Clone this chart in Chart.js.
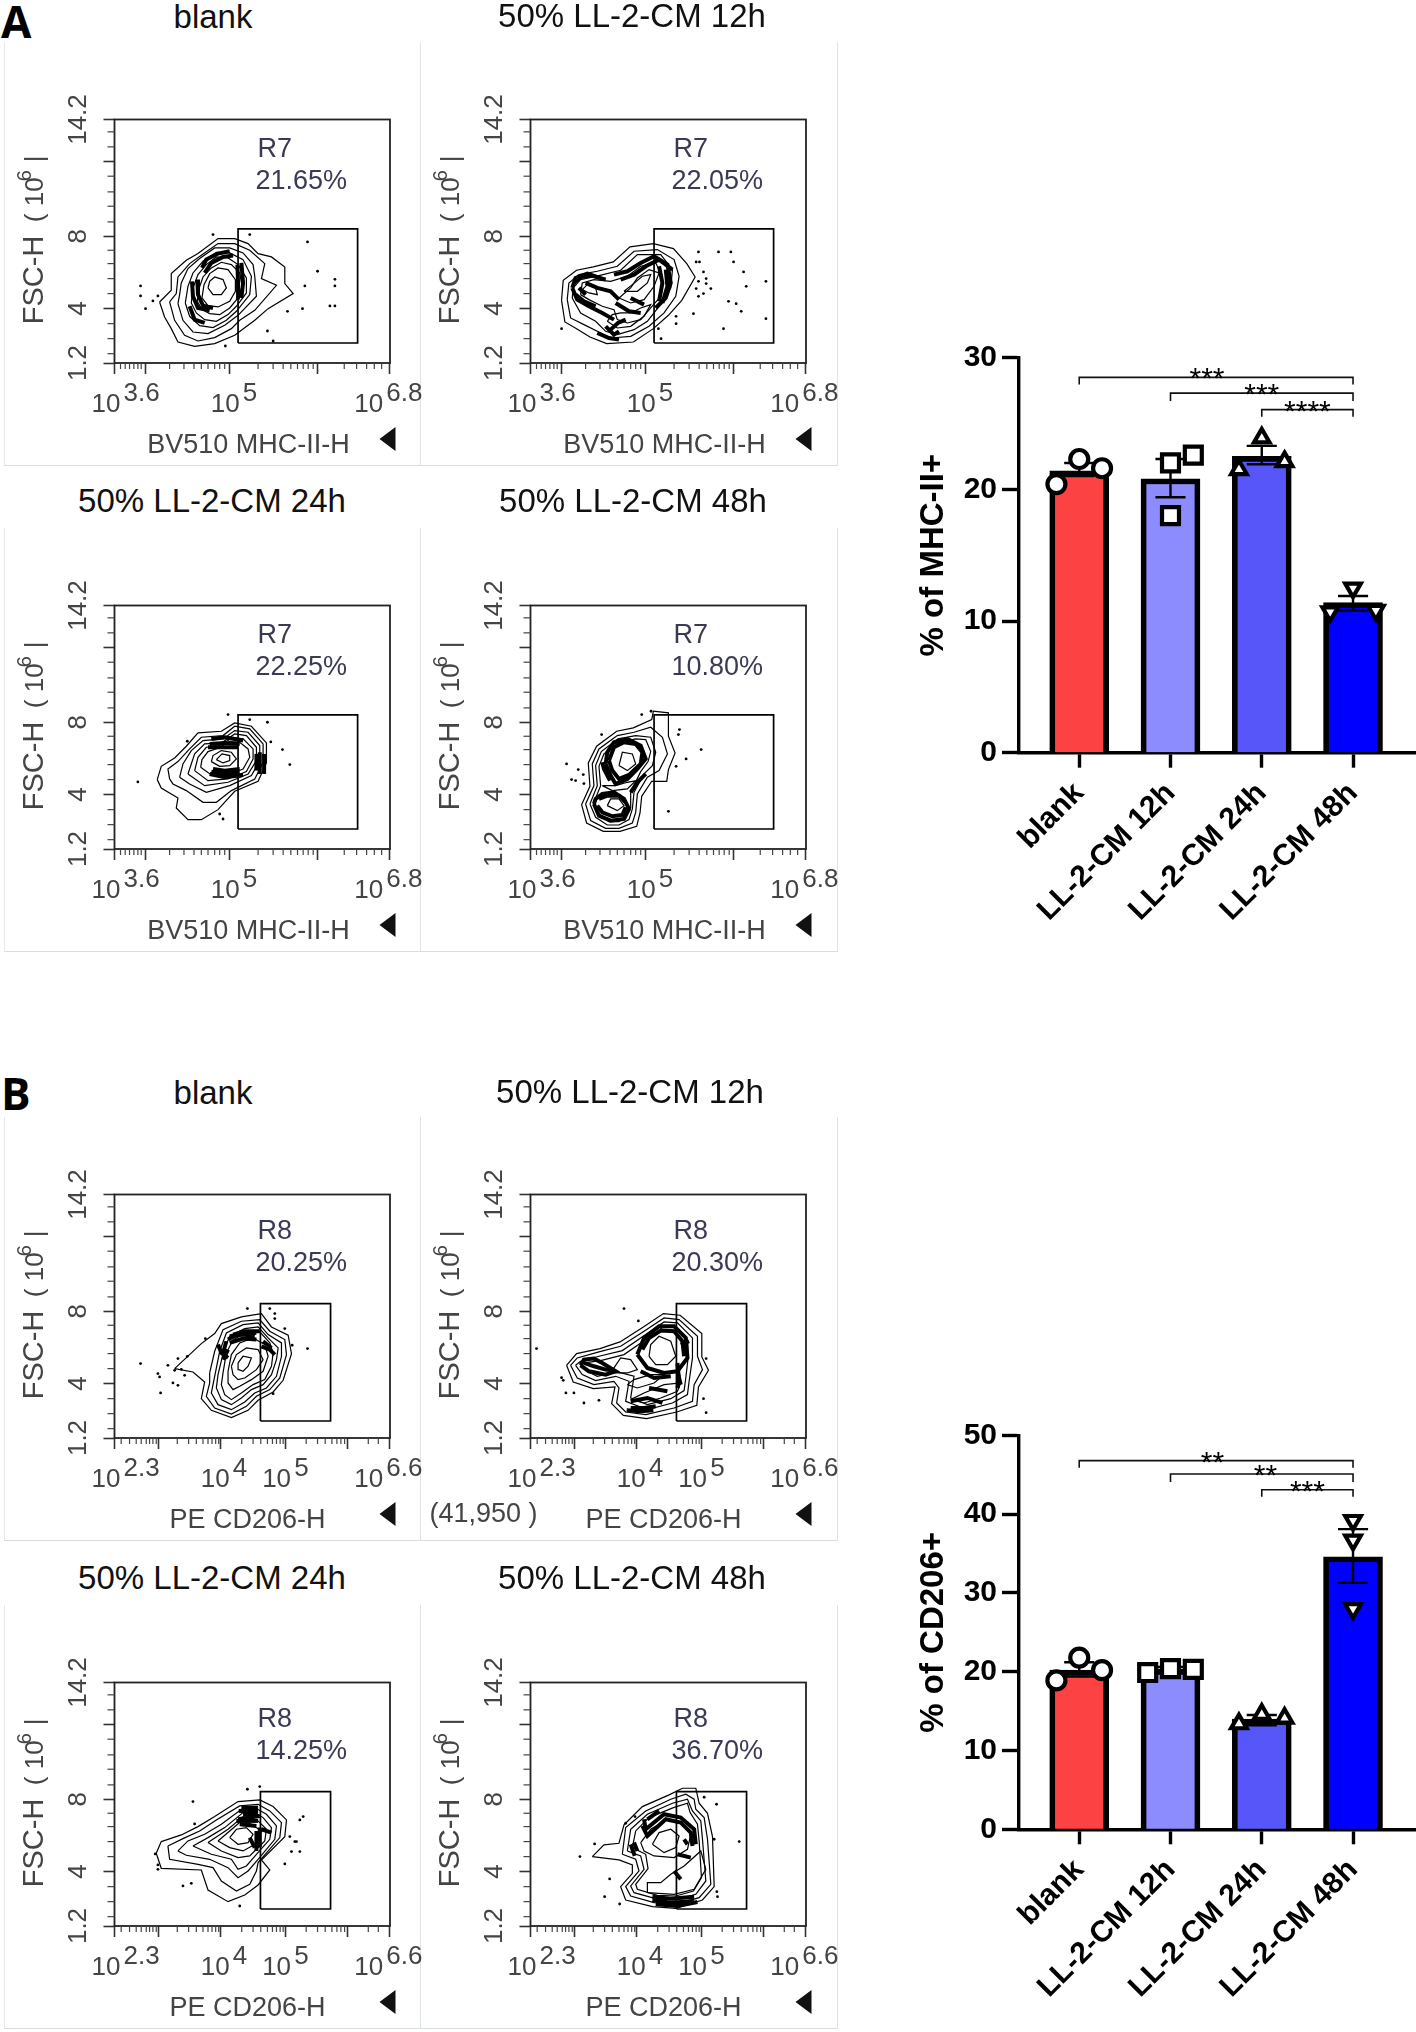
<!DOCTYPE html>
<html>
<head>
<meta charset="utf-8">
<title>MHC-II and CD206 after LL-2-CM</title>
<script src="https://cdn.jsdelivr.net/npm/chart.js@4"></script>
<style>
  html, body { margin: 0; background: #fff; }
  body { position: relative; width: 1416px; height: 2032px; overflow: hidden; font-family: "Liberation Sans", sans-serif; }
  .panel { position: absolute; width: 417px; height: 424px; box-sizing: border-box; border-right: 1px solid #dfe3ec; border-bottom: 1.5px solid #d8dce6; }
  .panel.first { border-left: 1px solid #e6e9f0; }
  .panel canvas, .bars canvas { display: block; }
  .panel canvas { filter: blur(0.35px); }
  .bars { position: absolute; width: 516px; height: 670px; filter: blur(0.3px); }
  .title { position: absolute; font-size: 33px; color: #111; transform: translate(-50%, -50%); white-space: nowrap; }
  .letter { position: absolute; font-family: "Open Sans", sans-serif; font-weight: 700; font-size: 44px; line-height: 44px; color: #000; }
</style>
</head>
<body>
<div class="letter" style="left:1px;top:-1px">A</div>
<div class="letter" style="left:1px;top:1071px">B</div>
<div class="bars" style="left:900px;top:330px"><canvas id="barsA" width="516" height="670"></canvas></div>
<div class="bars" style="left:900px;top:1400px"><canvas id="barsB" width="516" height="632"></canvas></div>

<script>
// bar charts
const groups = ['blank', 'LL-2-CM 12h', 'LL-2-CM 24h', 'LL-2-CM 48h'];
const barColors = ['#FC4242', '#8C8CFF', '#5757F9', '#0000FF'];

const mhcMeans = [21.4, 20.8, 22.5, 11.4];
const mhcErrLow = [21.0, 19.4, 21.9, 10.8];
const mhcErrHigh = [22.0, 22.3, 23.3, 11.9];
const mhcPoints = [[20.4, 22.3, 21.6], [18.0, 22.0, 22.6], [21.5, 23.9, 22.1], [10.7, 12.5, 10.8]];
const mhcBrackets = [[0, 3, 28.5, 27.95], [1, 3, 27.3, 26.7], [2, 3, 26.05, 25.5]];
const mhcStars = ['***', '***', '****'];
const mhcStarX = [1.4, 2.0, 2.5];

const cdMeans = [20.2, 20.3, 14.0, 34.6];
const cdErrLow = [19.4, 20.15, 13.2, 31.3];
const cdErrHigh = [21.2, 20.6, 14.5, 38.1];
const cdPoints = [[18.9, 21.8, 20.2], [19.9, 20.4, 20.3], [13.4, 14.6, 14.1], [28.0, 39.2, 36.7]];
const cdBrackets = [[0, 3, 46.8, 45.9], [1, 3, 45.1, 44.1], [2, 3, 43.1, 42.2]];
const cdStars = ['**', '**', '***'];
const cdStarX = [1.46, 2.04, 2.5];

// flow plots, all contours in display channels (x 0-825, y 0-730)
const xTicksA = [0, 93, 345, 608, 823];
const xMinorA = [18, 32, 45, 58, 70, 80, 165, 208, 238, 260, 280, 300, 315, 330, 430, 475, 505, 528, 548, 565, 580, 595, 688, 725, 755, 778, 800];
const xExpA = [[0, '3.6', -23], [345, '5', -19], [823, '6.8', -35]];
const xTicksB = [0, 132, 318, 511, 697, 823];
const xMinorB = [20, 45, 65, 80, 95, 105, 115, 125, 188, 222, 245, 265, 280, 292, 303, 312, 381, 415, 438, 458, 473, 485, 496, 505, 574, 608, 631, 651, 666, 678, 689, 760, 790];
const xExpB = [[0, '2.3', -23], [318, '4', -20], [511, '5', -23], [823, '6.6', -35]];
const yTicks = [0, 163, 380, 603, 730];
const yMinor = [693, 648, 560, 513, 470, 423, 338, 298, 253, 208, 118, 73, 28];
const yLabels = [[0, '1.2'], [163, '4'], [380, '8'], [730, '14.2']];
const gateA = [370, 60, 728, 60, 728, 402, 370, 402, 370, 60];
const gateB = [437, 51, 647, 51, 647, 403, 437, 403, 437, 51];

const a1Rings = [
  [135,183,150,138,170,103,190,63,240,50,300,58,360,83,420,128,460,163,535,208,510,238,510,288,470,318,430,328,400,358,360,373,310,373,250,328,215,308,170,268,170,218],
  [165,183,180,128,210,83,250,66,300,76,350,103,375,128,420,158,485,233,440,253,450,298,405,338,360,358,310,358,260,323,225,298,190,258,185,208],
  [190,178,205,128,235,93,280,88,330,113,370,143,425,200,420,260,415,295,385,330,345,345,300,345,255,313,220,283,200,240,195,205],
  [212,180,225,140,255,112,295,106,335,128,365,155,405,205,410,260,385,310,345,330,305,332,265,305,235,270,220,230],
  [230,180,245,150,270,130,305,125,340,145,365,170,395,210,395,255,370,295,340,315,305,318,275,295,250,265,235,225],
  [248,185,262,160,285,148,315,145,345,165,370,195,382,230,375,270,350,295,320,302,290,285,265,258,252,220],
  [262,195,280,172,310,168,345,185,362,215,362,250,340,280,310,285,285,268,268,235],
  [280,225,295,205,320,205,335,225,325,250,300,258,285,245]
];
const a1Dense = [[232,245,235,200,250,165,285,158], [262,285,275,310,310,328,345,335], [368,295,370,240,370,190], [248,250,250,205,265,172,295,165], [270,270,290,300,325,318,355,322], [380,300,385,240,380,195], [225,170,240,130,270,120]];
const a1Dots = [295,385,405,385,578,363,608,275,660,251,660,231,570,231,78,231,78,201,130,201,115,186,93,163,518,155,563,163,645,171,660,171,458,96,475,66,332,51];

const a2Rings = [
  [93,188,103,123,138,103,178,78,228,58,308,63,368,103,413,143,453,188,493,258,468,298,428,343,368,358,298,348,248,303,188,288,138,278,98,248],
  [110,190,120,135,160,115,200,95,240,75,300,80,355,110,400,150,435,200,445,260,430,310,380,340,310,335,260,290,200,275,145,265,115,240],
  [125,195,150,150,195,125,225,95,260,85,310,100,350,125,385,170,420,225,425,280,390,325,320,325,270,278,205,262,150,250,128,225],
  [150,205,175,190,215,170,250,160,260,130,290,120,330,130,360,165,390,200,395,260,375,300,330,290,290,260,240,245,190,250,155,240],
  [230,125,260,105,300,110,340,140,360,175,330,165,300,150,270,150,245,145],
  [265,195,300,180,340,190,370,230,385,270,355,280,320,255,300,225],
  [155,220,175,210,200,205,195,225,170,235],
  [280,215,320,215,350,240,360,265,335,260,305,235]
];
const a2Dense = [[125,225,135,255,170,268,205,255], [125,225,140,190,175,170,215,150,250,130], [250,265,290,275,330,300,370,320,410,295,420,240,405,195,375,165], [225,110,250,85,265,95], [130,240,150,258,185,262,225,250], [135,205,160,185,195,170], [145,225,165,205], [165,240,200,225,240,215,265,190], [270,250,310,265,345,290,385,310,425,280], [395,180,410,230,405,280], [385,185,395,240,385,290], [200,90,235,75,265,70], [240,100,262,120,285,130], [255,180,295,155,330,150], [300,195,340,175]];
const a2Dots = [503,333,563,333,600,333,496,303,506,303,608,303,638,273,518,273,503,245,526,253,526,238,496,223,540,223,518,208,503,200,646,230,705,245,593,185,616,178,631,155,488,148,436,140,436,118,383,103,391,73,578,103,705,133,93,103];

const a3Rings = [
  [128,208,140,183,190,153,185,123,220,88,260,88,310,118,360,173,430,203,455,258,455,318,410,368,360,378,320,353,250,348,215,308,180,273,140,248],
  [165,210,175,195,215,175,265,140,305,140,350,175,420,210,445,260,445,315,405,360,360,368,325,340,260,335,225,300,190,262,160,240],
  [195,215,225,195,275,170,345,190,410,220,435,265,435,310,400,350,360,355,325,330,265,325,230,295,205,255],
  [220,225,270,190,340,200,400,225,425,265,425,305,395,340,360,345,320,318,270,315,240,285],
  [240,235,280,205,340,210,395,232,415,270,415,300,385,330,355,335,315,310,275,305,250,275],
  [258,245,290,222,340,222,385,240,405,275,400,300,375,320,345,322,310,302,280,292,262,268],
  [290,262,315,248,345,250,365,270,350,290,320,295,295,280],
  [305,268,325,258,345,265,345,280,322,285]
];
const a3Dense = [[290,232,330,225,375,230], [285,315,330,318,375,315], [448,225,448,285], [290,330,330,335,385,325], [280,305,325,305,370,305], [285,225,330,215,385,222], [295,240,330,235,375,240], [435,225,435,290], [425,235,425,285]];
const a3Dots = [340,403,405,388,458,380,468,321,503,298,525,253,70,201,315,105,325,90,218,323];

const a4Rings = [
  [153,133,168,78,218,53,268,53,318,68,328,108,333,158,363,203,408,203,413,238,433,288,413,338,413,408,368,413,363,388,308,363,258,353,198,308,173,258,178,188],
  [165,135,180,85,225,62,265,62,305,78,315,110,320,165,350,215,385,235,410,285,395,335,360,365,310,350,260,340,205,300,185,255,190,190],
  [178,135,195,95,230,72,265,72,295,88,305,120,310,170,340,225,365,250,375,290,360,335,315,340,262,330,212,292,195,250,200,190],
  [188,135,205,105,235,82,265,82,285,98,298,125,300,170,330,232,352,262,360,292,345,328,315,330,265,320,220,285,205,248,210,190],
  [230,130,260,115,280,130,265,150,240,150],
  [265,250,290,235,315,255,305,285,275,290],
  [215,190,245,175,290,180,315,205,290,200,255,190]
];
const a4Dense = [[190,135,205,100,240,85,280,90,295,120,280,150,250,170,215,165,195,150,190,135], [225,255,240,220,255,195,290,210,320,240,345,270,330,310,290,330,250,320,230,290,225,255], [200,130,215,110,245,98,275,102,285,125], [205,150,230,160,265,160,285,140], [235,265,245,235,265,210,295,222,330,255,335,290,315,315,280,320,250,305,235,265], [215,260,220,240,238,205], [300,170,320,200,345,225]];
const a4Dots = [333,403,213,343,108,255,143,238,123,208,135,205,158,223,160,196,446,358,443,343,466,270,436,248,511,298,413,113,361,413];

const b1Rings = [
  [180,208,260,283,300,313,320,343,380,363,440,373,470,333,520,308,530,253,505,173,475,138,430,113,400,83,350,61,290,83,260,118,270,168,235,198],
  [285,195,300,260,325,325,380,350,435,355,465,320,510,295,515,250,495,180,465,145,425,125,395,95,350,72,300,90,275,125,285,165],
  [300,185,315,260,335,315,385,340,430,345,460,310,500,285,500,245,485,185,455,150,420,135,390,108,350,85,310,100,290,135],
  [310,190,328,265,345,305,390,328,430,333,460,300,490,270,485,235,470,190,445,160,410,145,380,120,350,100,320,115,305,150],
  [325,195,335,255,355,295,395,315,435,318,465,285,475,255,470,215,450,175,415,160,380,135,350,115,330,130,320,160],
  [340,200,350,250,375,285,415,300,450,280,460,245,445,200,410,175,375,155,355,145,340,165],
  [350,215,365,250,395,270,430,265,445,235,425,205,390,180,370,175,355,190],
  [370,225,385,245,410,240,400,215,385,200,372,205]
];
const b1Dense = [[325,255,335,290], [345,305,385,310,420,305], [445,290,470,270], [310,280,320,255,340,240], [340,295,380,318,425,315], [345,285,385,298,425,295], [355,310,390,320,435,320], [440,275,465,265,480,250], [325,235,340,265]];
const b1Dots = [78,223,130,193,135,183,138,135,160,218,175,165,190,158,190,238,218,245,180,203,200,206,210,188,272,298,398,388,465,388,480,373,480,358,510,328,532,278,578,268,475,133];

const b2Rings = [
  [108,218,128,168,188,148,253,153,243,103,278,68,348,58,438,78,498,98,503,153,533,203,513,243,513,313,448,368,398,373,338,333,268,288,208,268,138,253],
  [120,218,140,180,190,160,250,170,265,150,258,105,285,78,345,70,430,90,485,110,490,160,515,205,500,245,500,305,445,355,400,360,340,320,270,275,205,258,140,240],
  [135,218,155,190,195,172,255,185,295,170,285,110,350,85,425,105,470,130,475,170,485,240,485,300,440,345,400,348,345,310,275,262,205,245,150,230],
  [150,218,170,200,200,185,260,198,310,185,300,120,350,100,420,118,460,142,465,180,472,240,470,295,435,335,400,335,350,298,280,250,210,232,160,225],
  [290,160,320,150,370,165,400,190,360,190,310,175],
  [300,115,340,105,390,120,440,140,450,165,400,160,340,135],
  [355,245,375,220,410,220,435,245,420,290,385,305,360,280],
  [215,205,250,210,270,240,300,235,320,205,290,195,255,195]
];
const b2Dense = [[150,218,175,200,225,190,255,200,215,225,190,238,160,235,150,218], [320,250,340,300,385,335,430,335,465,300,470,240,440,200,450,160], [320,250,350,210,400,195,440,200], [288,83,330,80,368,83], [160,225,190,215,225,205,245,205], [335,265,355,300,390,322,430,320,455,290,460,245], [440,225,445,170,440,150], [450,280,475,290], [330,200,370,180,420,185], [300,90,340,90,375,95], [300,110,350,120,395,105], [355,150,410,140]];
const b2Dots = [280,388,18,268,323,351,98,173,106,135,130,135,160,105,205,113,526,238,518,118,526,76,93,181];

const b3Rings = [
  [140,253,125,218,140,173,260,168,280,108,340,73,390,93,430,123,465,168,440,198,510,268,515,318,475,358,435,378,370,373,300,328,250,298,200,273],
  [160,240,165,200,250,185,295,175,320,135,365,105,405,125,425,165,430,190,495,265,500,310,465,345,430,365,375,360,305,318,255,285,205,262],
  [190,225,215,212,285,200,340,175,370,145,400,165,430,200,480,260,485,300,455,335,425,352,380,350,320,305,270,275,220,255],
  [235,240,290,215,350,200,370,170,395,180,425,215,465,260,470,295,445,325,420,340,385,340,330,295,280,265],
  [280,250,320,225,370,205,405,210,450,255,455,290,430,315,385,328,340,290],
  [310,255,345,235,385,225,430,250,440,285,410,305,380,315,345,285],
  [345,265,370,245,400,250,415,275,395,295,365,290]
];
const b3Dense = [[372,345,430,345], [370,320,435,330], [365,315,430,315], [435,295,435,235], [440,290,470,280], [380,355,430,355], [375,305,425,300], [425,285,425,225], [405,265,420,235], [385,335,430,335]];
const b3Dots = [235,373,398,410,435,418,565,328,555,318,525,268,540,253,530,223,555,223,510,186,545,253,205,120,230,128,122,216,130,183,130,170,375,60,240,306];

const b4Rings = [
  [185,208,220,243,265,248,280,303,335,358,415,393,455,413,495,413,505,368,530,338,545,268,550,118,515,78,435,53,365,58,285,78,270,118,305,158,305,183,265,198],
  [275,215,285,295,345,345,420,380,465,395,490,380,495,350,520,325,530,260,540,125,505,85,435,65,370,70,300,90,285,118,325,165,315,200],
  [290,225,300,290,350,335,425,368,470,380,485,345,510,315,515,260,525,135,495,95,435,78,375,82,310,100,300,120,340,170,330,210],
  [305,235,315,285,355,325,428,355,470,368,478,340,500,305,505,255,512,145,488,105,435,90,380,92,320,110,315,125,352,172,345,215],
  [330,250,360,290,410,320,455,310,480,275,470,230,430,205,370,210,340,225],
  [365,245,385,280,420,290,445,270,435,235,400,220],
  [350,100,430,95,490,110,525,170,510,225,460,180,420,155,390,130,350,130]
];
const b4Dense = [[340,320,345,290,400,335,450,325,490,290,495,245], [310,250,320,225], [365,78,420,70,490,75], [335,300,350,270,405,320,450,310,480,280,485,240], [300,245,312,210], [350,320,385,345], [365,88,420,82,490,88], [375,65,440,60,500,72], [440,215,480,205], [430,165,450,140], [460,260,470,245]];
const b4Dots = [148,208,192,246,237,141,222,88,267,66,285,308,313,328,520,386,557,365,625,253,558,103,560,88,550,260];

const font = '"Liberation Sans", sans-serif';

// flat x,y list to chart points
function toXY(list) {
  const out = [];
  for (let i = 0; i < list.length; i += 2) out.push({ x: list[i], y: list[i + 1] });
  return out;
}

// text, minor ticks and frame of one flow plot, none of this is part of the data
const flowExtras = {
  id: 'flowExtras',
  afterDraw(chart, args, o) {
    const ctx = chart.ctx;
    const a = chart.chartArea;
    const sx = chart.scales.x;
    const sy = chart.scales.y;
    ctx.save();
    ctx.strokeStyle = '#222';
    ctx.lineWidth = 1.8;
    ctx.strokeRect(a.left, a.top, a.right - a.left, a.bottom - a.top);

    ctx.lineWidth = 1.2;
    ctx.strokeStyle = '#444';
    o.xMinor.forEach(v => {
      const p = sx.getPixelForValue(v);
      ctx.beginPath(); ctx.moveTo(p, a.bottom); ctx.lineTo(p, a.bottom + 6); ctx.stroke();
    });
    yMinor.forEach(v => {
      const p = sy.getPixelForValue(v);
      ctx.beginPath(); ctx.moveTo(a.left, p); ctx.lineTo(a.left - 7, p); ctx.stroke();
    });

    ctx.fillStyle = '#444';
    ctx.textBaseline = 'alphabetic';
    ctx.textAlign = 'left';
    ctx.font = '26px ' + font;
    o.xExp.forEach(e => {
      const p = sx.getPixelForValue(e[0]) + e[2];
      ctx.fillText('10', p, a.bottom + 49);
      ctx.fillText(e[1], p + 32, a.bottom + 38);
    });

    ctx.font = '27px ' + font;
    ctx.textAlign = 'center';
    ctx.fillText(o.xTitle, a.left + o.xTitleAt, a.bottom + 90);
    if (o.note) {
      ctx.textAlign = 'left';
      ctx.fillText(o.note, a.left + 3 - 104, a.bottom + 84);
    }

    ctx.fillStyle = '#111';
    ctx.beginPath();
    ctx.moveTo(a.left + 265, a.bottom + 76);
    ctx.lineTo(a.left + 281, a.bottom + 64);
    ctx.lineTo(a.left + 281, a.bottom + 88);
    ctx.closePath();
    ctx.fill();

    // y labels read upwards
    ctx.fillStyle = '#444';
    yLabels.forEach(l => {
      ctx.save();
      ctx.translate(a.left - 29, sy.getPixelForValue(l[0]));
      ctx.rotate(-Math.PI / 2);
      ctx.textAlign = 'center';
      ctx.font = '26px ' + font;
      ctx.fillText(l[1], 0, 0);
      ctx.restore();
    });
    ctx.save();
    ctx.translate(a.left - 72, (a.top + a.bottom) / 2);
    ctx.rotate(-Math.PI / 2);
    ctx.textAlign = 'left';
    ctx.font = '29px ' + font;
    ctx.fillText('FSC-H', -83, 0);
    ctx.font = '26px ' + font;
    ctx.fillText('(', 19, 0);
    ctx.fillText('10', 35, 0);
    ctx.font = '20px ' + font;
    ctx.fillText('6', 60, -12);
    ctx.font = '26px ' + font;
    ctx.fillText('|', 79, 0);
    ctx.restore();

    // gate name and percentage
    ctx.fillStyle = '#3b3a55';
    ctx.textAlign = 'left';
    ctx.font = '27px ' + font;
    ctx.fillText(o.gate, a.left + 143, a.top + o.gateY[0]);
    ctx.fillText(o.percent, a.left + 141, a.top + o.gateY[1]);
    ctx.restore();
  }
};

function flowPlot(p) {
  const wrap = document.createElement('div');
  wrap.className = 'panel' + (p.first ? ' first' : '');
  wrap.style.left = p.left + 'px';
  wrap.style.top = p.top + 'px';
  const cv = document.createElement('canvas');
  cv.width = 417;
  cv.height = 424;
  wrap.appendChild(cv);
  document.body.appendChild(wrap);

  const t = document.createElement('div');
  t.className = 'title';
  t.textContent = p.title;
  t.style.left = p.titleX + 'px';
  t.style.top = p.titleY + 'px';
  document.body.appendChild(t);

  const line = (pts, w) => ({ data: pts, showLine: true, borderColor: '#000', borderWidth: w, pointRadius: 0, tension: 0, clip: false });
  const datasets = [];
  p.rings.forEach(r => datasets.push(line(toXY(r.concat(r[0], r[1])), 1.2)));
  p.dense.forEach(r => datasets.push(line(toXY(r), 4)));
  datasets.push(line(toXY(p.gateBox), 1.7));
  datasets.push({ data: toXY(p.dots), showLine: false, pointRadius: 1.4, pointBackgroundColor: '#000', pointBorderWidth: 0 });

  new Chart(cv, {
    type: 'scatter',
    data: { datasets },
    plugins: [flowExtras],
    options: {
      responsive: false,
      animation: false,
      events: [],
      layout: { autoPadding: false, padding: { top: 77.5, right: 32 } },
      plugins: {
        legend: { display: false },
        tooltip: { enabled: false },
        flowExtras: {
          xMinor: p.xMinor, xExp: p.xExp, xTitle: p.xTitle, xTitleAt: p.xTitleAt,
          gate: p.gate, percent: p.percent, gateY: p.gateY, note: p.note
        }
      },
      scales: {
        x: {
          type: 'linear', min: 0, max: 825,
          afterBuildTicks: s => { s.ticks = p.xTicks.map(v => ({ value: v })); },
          afterFit: s => { s.height = 103; },
          ticks: { display: false },
          border: { display: false },
          grid: { drawOnChartArea: false, tickLength: 11, tickWidth: 1.6, tickColor: '#333' }
        },
        y: {
          type: 'linear', min: 0, max: 730,
          afterBuildTicks: s => { s.ticks = yTicks.map(v => ({ value: v })); },
          afterFit: s => { s.width = 109.5; },
          ticks: { display: false },
          border: { display: false },
          grid: { drawOnChartArea: false, tickLength: 11, tickWidth: 1.6, tickColor: '#333' }
        }
      }
    }
  });
}

const gateYA = [37, 69];
const gateYB = [44, 76];
const axisA = { xTicks: xTicksA, xMinor: xMinorA, xExp: xExpA, xTitle: 'BV510 MHC-II-H', xTitleAt: 134, gateBox: gateA, gateY: gateYA, gate: 'R7' };
const axisB = { xTicks: xTicksB, xMinor: xMinorB, xExp: xExpB, xTitle: 'PE CD206-H', xTitleAt: 133, gateBox: gateB, gateY: gateYB, gate: 'R8' };

[
  Object.assign({ left: 4, top: 42, first: true, title: 'blank', titleX: 213, titleY: 17, percent: '21.65%', rings: a1Rings, dense: a1Dense, dots: a1Dots }, axisA),
  Object.assign({ left: 421, top: 42, title: '50% LL-2-CM 12h', titleX: 632, titleY: 16, percent: '22.05%', rings: a2Rings, dense: a2Dense, dots: a2Dots }, axisA),
  Object.assign({ left: 4, top: 528, first: true, title: '50% LL-2-CM 24h', titleX: 212, titleY: 501, percent: '22.25%', rings: a3Rings, dense: a3Dense, dots: a3Dots }, axisA),
  Object.assign({ left: 421, top: 528, title: '50% LL-2-CM 48h', titleX: 633, titleY: 501, percent: '10.80%', rings: a4Rings, dense: a4Dense, dots: a4Dots }, axisA),
  Object.assign({ left: 4, top: 1117, first: true, title: 'blank', titleX: 213, titleY: 1093, percent: '20.25%', rings: b1Rings, dense: b1Dense, dots: b1Dots }, axisB),
  Object.assign({ left: 421, top: 1117, title: '50% LL-2-CM 12h', titleX: 630, titleY: 1092, percent: '20.30%', note: '(41,950 )', rings: b2Rings, dense: b2Dense, dots: b2Dots }, axisB),
  Object.assign({ left: 4, top: 1605, first: true, title: '50% LL-2-CM 24h', titleX: 212, titleY: 1578, percent: '14.25%', rings: b3Rings, dense: b3Dense, dots: b3Dots }, axisB),
  Object.assign({ left: 421, top: 1605, title: '50% LL-2-CM 48h', titleX: 632, titleY: 1578, percent: '36.70%', rings: b4Rings, dense: b4Dense, dots: b4Dots }, axisB)
].forEach(flowPlot);

// significance stars sit just on the bracket lines
const starLabels = {
  id: 'starLabels',
  afterDatasetsDraw(chart, args, o) {
    const ctx = chart.ctx;
    ctx.save();
    ctx.fillStyle = '#000';
    ctx.font = '30px ' + font;
    ctx.textAlign = 'center';
    ctx.textBaseline = 'alphabetic';
    o.stars.forEach((s, i) => {
      ctx.fillText(s, chart.scales.x.getPixelForValue(o.starX[i]), chart.scales.y.getPixelForValue(o.brackets[i][2]) + 11);
    });
    ctx.restore();
  }
};

const pointStyles = [
  { pointStyle: 'circle', radius: 9, rotation: 0 },
  { pointStyle: 'rect', radius: 12, rotation: 0 },
  { pointStyle: 'triangle', radius: 9, rotation: 0 },
  { pointStyle: 'triangle', radius: 9, rotation: 180 }
];

function barChart(id, cfg) {
  const datasets = [];
  datasets.push({
    type: 'bar',
    data: cfg.means.map((v, i) => ({ x: i, y: v })),
    backgroundColor: barColors,
    borderColor: '#000',
    borderWidth: 5.7,
    borderSkipped: 'bottom',
    barThickness: 59,
    order: 4
  });
  groups.forEach((g, i) => {
    const lo = cfg.errLow[i];
    const hi = cfg.errHigh[i];
    datasets.push({
      type: 'scatter', showLine: true, pointRadius: 0, borderColor: '#000', borderWidth: 2.4, order: 2, clip: false,
      data: [{ x: i - 0.165, y: lo }, { x: i + 0.165, y: lo }, { x: i, y: lo }, { x: i, y: hi }, { x: i - 0.165, y: hi }, { x: i + 0.165, y: hi }]
    });
    const st = pointStyles[i];
    datasets.push({
      type: 'scatter', order: 1, clip: false,
      data: cfg.points[i].map((v, k) => ({ x: i + cfg.spread[i][k], y: v })),
      pointStyle: st.pointStyle, pointRadius: st.radius, pointRotation: st.rotation,
      pointBackgroundColor: '#fff', pointBorderColor: '#000', pointBorderWidth: 4.2
    });
  });
  cfg.brackets.forEach(b => {
    datasets.push({
      type: 'scatter', showLine: true, pointRadius: 0, borderColor: '#111', borderWidth: 1.6, order: 3,
      data: [{ x: b[0], y: b[3] }, { x: b[0], y: b[2] }, { x: b[1], y: b[2] }, { x: b[1], y: b[3] }]
    });
  });

  new Chart(document.getElementById(id), {
    type: 'bar',
    data: { datasets },
    plugins: [starLabels],
    options: {
      responsive: false,
      animation: false,
      events: [],
      layout: { autoPadding: false, padding: { top: cfg.top, right: 0 } },
      plugins: {
        legend: { display: false },
        tooltip: { enabled: false },
        starLabels: { stars: cfg.stars, starX: cfg.starX, brackets: cfg.brackets }
      },
      scales: {
        x: {
          type: 'linear',
          offset: false,
          min: -0.66, max: 3.69,
          afterBuildTicks: s => { s.ticks = groups.map((g, i) => ({ value: i })); },
          afterFit: s => { s.height = cfg.bottom; s.paddingLeft = 0; s.paddingRight = 0; },
          ticks: {
            autoSkip: false, maxRotation: 45, minRotation: 45, padding: 8, color: '#000',
            font: { family: font, size: 30, weight: 'bold' },
            callback: v => groups[v]
          },
          border: { display: true, width: 3.4, color: '#000' },
          grid: { drawOnChartArea: false, offset: false, tickLength: 15, tickWidth: 3.4, tickColor: '#000' }
        },
        y: {
          type: 'linear', min: 0, max: cfg.max,
          afterFit: s => { s.width = 119; s.paddingTop = 0; s.paddingBottom = 0; },
          ticks: { stepSize: 10, padding: 5, color: '#000', font: { family: font, size: 30, weight: 'bold' } },
          title: { display: true, text: cfg.yTitle, color: '#000', padding: { top: 14, bottom: 0 }, font: { family: font, size: 33, weight: 'bold' } },
          border: { display: true, width: 3.4, color: '#000' },
          grid: { drawOnChartArea: false, tickLength: 17, tickWidth: 3.4, tickColor: '#000' }
        }
      }
    }
  });
}

const sideBySide = [-0.25, 0, 0.25];
barChart('barsA', {
  means: mhcMeans, errLow: mhcErrLow, errHigh: mhcErrHigh, points: mhcPoints,
  spread: [sideBySide, [0, 0, 0.25], sideBySide, sideBySide],
  brackets: mhcBrackets, stars: mhcStars, starX: mhcStarX,
  max: 30, yTitle: '% of MHC-II+', top: 27.6, bottom: 247.3
});
barChart('barsB', {
  means: cdMeans, errLow: cdErrLow, errHigh: cdErrHigh, points: cdPoints,
  spread: [sideBySide, sideBySide, sideBySide, [0, 0, 0]],
  brackets: cdBrackets, stars: cdStars, starX: cdStarX,
  max: 50, yTitle: '% of CD206+', top: 35.4, bottom: 202.7
});
</script>
</body>
</html>
